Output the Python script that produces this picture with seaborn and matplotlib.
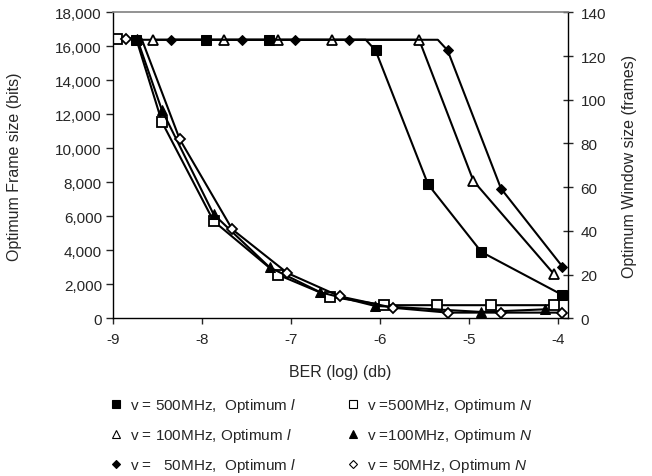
import matplotlib
matplotlib.use("Agg")
import matplotlib.pyplot as plt
from matplotlib.lines import Line2D
from matplotlib.ticker import StrMethodFormatter
import seaborn as sns

# optimum frame size l (bits), left axis
l500_x = [-8.74, -7.95, -7.25, -6.16, -6.05, -5.46, -4.86, -3.95]
l500_y = [16384, 16384, 16384, 16384, 15760, 7880, 3900, 1370]
l100_x = [-8.55, -7.75, -7.15, -6.54, -5.56, -4.95, -4.05]
l100_y = [16384, 16384, 16384, 16384, 16384, 8080, 2630]
l50_x = [-8.35, -7.55, -6.95, -6.35, -5.35, -5.24, -4.64, -3.95]
l50_y = [16384, 16384, 16384, 16384, 16384, 15760, 7630, 3040]

# optimum window size N (frames), right axis
n500_x = [-8.95, -8.74, -8.45, -7.87, -7.15, -6.56, -5.95, -5.36, -4.75, -4.04]
n500_y = [128, 128, 89.8, 44.5, 20.0, 9.9, 6.0, 6.0, 6.0, 6.0]
n100_x = [-8.73, -8.45, -7.87, -7.24, -6.67, -6.06, -4.86, -4.15]
n100_y = [128, 95.2, 47.6, 23.3, 11.9, 5.7, 2.9, 4.1]
n50_x = [-8.85, -8.68, -8.25, -7.66, -7.04, -6.45, -5.85, -5.24, -4.64, -3.95]
n50_y = [128, 128, 81.9, 40.7, 20.7, 10.0, 4.8, 2.6, 2.6, 2.6]

labels_l = ["v = 500MHz,  Optimum $\\mathit{l}$",
            "v = 100MHz, Optimum $\\mathit{l}$",
            "v =   50MHz,  Optimum $\\mathit{l}$"]
labels_n = ["v =500MHz, Optimum $\\mathit{N}$",
            "v =100MHz, Optimum $\\mathit{N}$",
            "v = 50MHz, Optimum $\\mathit{N}$"]

sns.set_style("ticks")
plt.rcParams["font.family"] = ["Liberation Sans", "DejaVu Sans"]
plt.rcParams["mathtext.fontset"] = "custom"
plt.rcParams["mathtext.rm"] = "Liberation Sans"
plt.rcParams["mathtext.it"] = "Liberation Sans:italic"
plt.rcParams["axes.unicode_minus"] = False

W, H = 652, 477
fig = plt.figure(figsize=(W / 100, H / 100), dpi=100)
ax1 = fig.add_axes([113 / W, 1 - 319.3 / H, 454.5 / W, 306 / H])
ax2 = ax1.twinx()
ax1.set_zorder(ax2.get_zorder() + 1)
ax1.patch.set_visible(False)

lw = 1.5
common = dict(sort=False, estimator=None, color="black", lw=lw, markeredgecolor="black")
# N curves (right axis)
sns.lineplot(x=n500_x, y=n500_y, ax=ax2, marker="s", markersize=7, markerfacecolor="white",
             markeredgewidth=1.3, markevery=[0, 2, 3, 4, 5, 6, 7, 8, 9], **common)
sns.lineplot(x=n100_x, y=n100_y, ax=ax2, marker="^", markersize=7.5, markerfacecolor="black",
             **common)
sns.lineplot(x=n50_x, y=n50_y, ax=ax2, marker="D", markersize=5.5, markerfacecolor="white",
             markeredgewidth=1.3, markevery=[0, 2, 3, 4, 5, 6, 7, 8, 9], **common)
# l curves (left axis)
sns.lineplot(x=l500_x, y=l500_y, ax=ax1, marker="s", markersize=7, markerfacecolor="black",
             markevery=[0, 1, 2, 4, 5, 6, 7], **common)
sns.lineplot(x=l100_x, y=l100_y, ax=ax1, marker="^", markersize=7.5, markerfacecolor="white",
             markeredgewidth=1.3, **common)
sns.lineplot(x=l50_x, y=l50_y, ax=ax1, marker="D", markersize=5.5, markerfacecolor="black",
             markevery=[0, 1, 2, 3, 5, 6, 7], **common)

ax1.set_xlim(-9, -3.893)
ax1.set_ylim(0, 18000)
ax2.set_ylim(0, 140)
ax1.set_xticks([-9, -8, -7, -6, -5, -4])
ax1.set_yticks(range(0, 18001, 2000))
ax2.set_yticks(range(0, 141, 20))
ax1.yaxis.set_major_formatter(StrMethodFormatter("{x:,.0f}"))

fs_tick = 11
fs_lab = 11.5
ax1.set_xlabel("BER (log) (db)", fontsize=fs_lab)
ax1.set_ylabel("Optimum Frame size (bits)", fontsize=fs_lab)
ax2.set_ylabel("Optimum Window size (frames)", fontsize=fs_lab)
ax1.xaxis.set_label_coords(0.5, -0.148)
ax1.yaxis.set_label_coords(-0.200, 0.5)
ax2.yaxis.set_label_coords(1.120, 0.5)

ax1.tick_params(axis="x", labelsize=fs_tick, direction="out", length=4, width=1, pad=6)
ax1.tick_params(axis="y", labelsize=fs_tick, direction="out", length=5, width=1, pad=3)
ax2.tick_params(axis="y", labelsize=fs_tick, direction="inout", length=7, width=1, pad=6)

for s in ["left", "bottom"]:
    ax1.spines[s].set_color("black")
    ax1.spines[s].set_linewidth(1)
ax1.spines["top"].set_color("#808080")
ax1.spines["top"].set_linewidth(1.2)
ax1.spines["right"].set_visible(False)
ax2.spines["right"].set_color("black")
ax2.spines["right"].set_linewidth(1)
for s in ["left", "bottom", "top"]:
    ax2.spines[s].set_visible(False)


def h(m, fc, ms):
    return Line2D([], [], linestyle="none", marker=m, markersize=ms,
                  markerfacecolor=fc, markeredgecolor="black", markeredgewidth=0.8)


handles_l = [h("s", "black", 6), h("^", "white", 5.5), h("D", "black", 4.5)]
handles_n = [h("s", "white", 6), h("^", "black", 6), h("D", "white", 4.5)]
leg_kw = dict(loc="upper left", frameon=False, fontsize=11, labelspacing=0.8,
              handlelength=0.8, handletextpad=0.55, borderpad=0, borderaxespad=0)
fig.legend(handles_l, labels_l, bbox_to_anchor=(109.5 / W, 1 - 397 / H), **leg_kw)
fig.legend(handles_n, labels_n, bbox_to_anchor=(346.5 / W, 1 - 397 / H), **leg_kw)

fig.savefig("out.png", dpi=100)
